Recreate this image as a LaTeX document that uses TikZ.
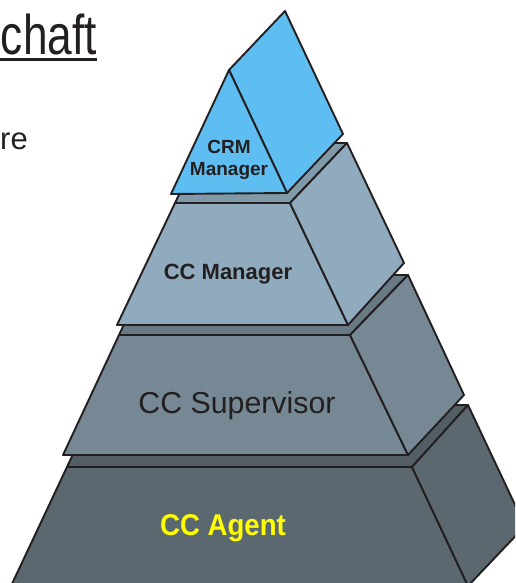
\documentclass[tikz,border=0pt]{standalone}
\usepackage{fontspec}
\setmainfont{Liberation Sans}
\definecolor{outline}{HTML}{231F20}
\definecolor{crmfill}{HTML}{5EBEF2}
\definecolor{mgrfill}{HTML}{8FABBD}
\definecolor{supfill}{HTML}{758894}
\definecolor{agtfill}{HTML}{5C686F}
\definecolor{agttext}{HTML}{FFFF00}
\tikzset{
  face/.style={draw=outline, line width=1.9pt, line join=round},
  topface/.style={face, fill=#1!90!black},
  frontface/.style={face, fill=#1},
  label/.style={inner sep=0pt, text=outline}
}
\begin{document}
\begin{tikzpicture}[x=1pt,y=-1pt]
\useasboundingbox (0,0) rectangle (515,583);
\clip (0,0) rectangle (515,583);

% ---- CC Agent tier
\path[topface=agtfill] (67,467) -- (412,467) -- (468,405) -- (96,405) -- cycle;
\path[frontface=agtfill] (67,467) -- (412,467) -- (468,586) -- (11,586) -- cycle;
\path[frontface=agtfill] (412,467) -- (468,405) -- (525,526) -- (468,586) -- cycle;

% ---- CC Supervisor tier
\path[topface=supfill] (119,335) -- (350,335) -- (408,275) -- (147,275) -- cycle;
\path[frontface=supfill] (119,335) -- (350,335) -- (408,455) -- (63,455) -- cycle;
\path[frontface=supfill] (350,335) -- (408,275) -- (464,395) -- (408,455) -- cycle;

% ---- CC Manager tier
\path[topface=mgrfill] (175,203) -- (290,203) -- (347,143) -- (204,143) -- cycle;
\path[frontface=mgrfill] (175,203) -- (290,203) -- (348,325) -- (117,325) -- cycle;
\path[frontface=mgrfill] (290,203) -- (347,143) -- (404,263) -- (348,325) -- cycle;

% ---- CRM Manager prism
\path[frontface=crmfill] (229,70) -- (285,11) -- (343,134) -- (287,193) -- cycle;
\path[frontface=crmfill] (171,194) -- (229,70) -- (287,193) -- cycle;

% ---- labels
\node[label, anchor=base, align=center, font=\bfseries\fontsize{19}{22}\selectfont] (crm) at (229,175) {CRM\\Manager};
\node[label, anchor=base, font=\bfseries\fontsize{22}{26}\selectfont] (mgr) at (228,279) {CC Manager};
\node[label, anchor=base, font=\fontsize{30.3}{34}\selectfont] (sup) at (237,413) {CC Supervisor};
\node[label, anchor=base, text=agttext, font=\bfseries\fontsize{30}{34}\selectfont] (agt) at (223,535) {\scalebox{0.92}[1]{CC Agent}};

% ---- cut-off slide text on the left
\node[label, anchor=base east, font=\fontsize{56}{60}\selectfont] (title) at (97,55) {\scalebox{0.79}[1]{chaft}};
\coordinate (ulstart) at (0,59.5);
\draw[outline, line width=2.4pt] (ulstart) -- (title.base east |- ulstart);
\node[label, anchor=base east, font=\fontsize{31}{34}\selectfont] (re) at (28,149) {re};
\end{tikzpicture}
\end{document}
